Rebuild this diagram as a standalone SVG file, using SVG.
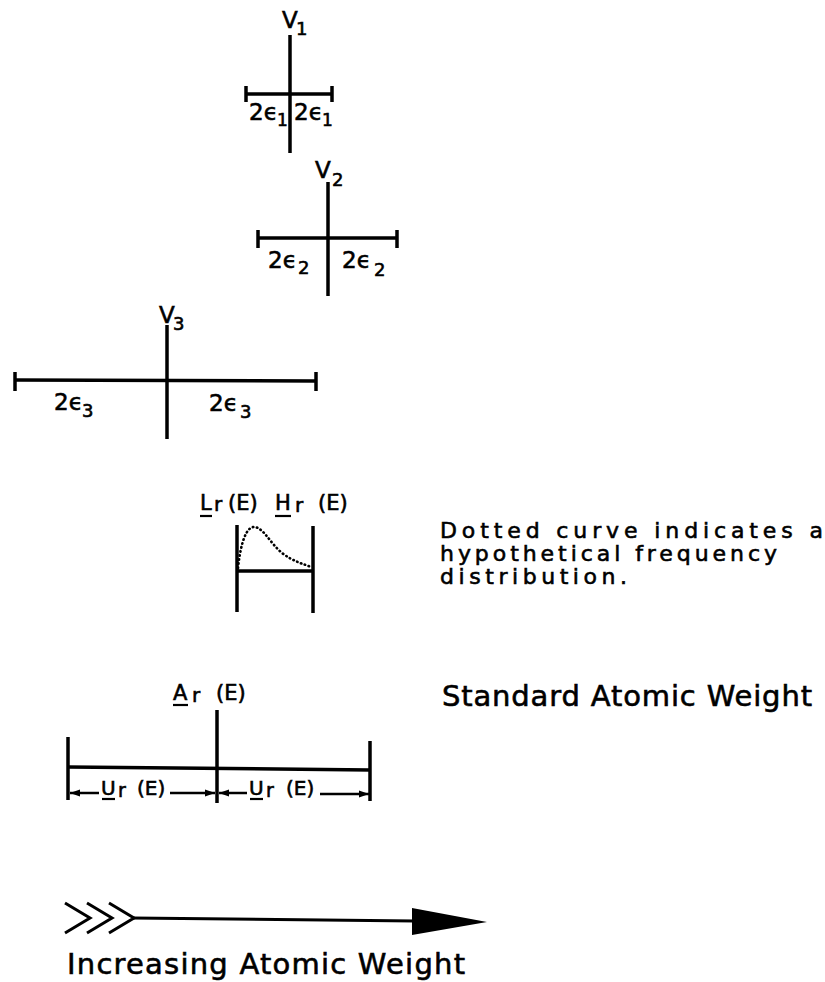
<svg xmlns="http://www.w3.org/2000/svg" width="825" height="982" viewBox="0 0 825 982">
<defs>
<style>
.ln{stroke:#000;stroke-width:3.5;fill:none;stroke-linecap:butt}
.thin{stroke:#000;stroke-width:2.5;fill:none}
.t{font-family:"DejaVu Sans","Liberation Sans",Arial,sans-serif;fill:#000;stroke:#000;stroke-width:0.6}
.ul{stroke:#000;stroke-width:2.2}
</style>
<marker id="ah" markerWidth="10" markerHeight="8" refX="10" refY="4" orient="auto" markerUnits="userSpaceOnUse">
<path d="M0,0.5 L10,4 L0,7.5 Z" fill="#000"/>
</marker>
</defs>
<rect width="825" height="982" fill="#fff"/>

<g id="v1">
<line class="ln" x1="290" y1="35" x2="290" y2="153"/>
<line class="ln" x1="245" y1="94" x2="333" y2="94"/>
<line class="ln" x1="246" y1="86" x2="246" y2="102"/>
<line class="ln" x1="332" y1="86" x2="332" y2="102"/>
<text class="t" x="282" y="28" font-size="23">V</text>
<text class="t" x="296" y="35" font-size="18">1</text>
<text class="t" x="249" y="120" font-size="23">2ϵ</text>
<text class="t" x="277" y="126" font-size="17">1</text>
<text class="t" x="294" y="120" font-size="23">2ϵ</text>
<text class="t" x="322" y="126" font-size="17">1</text>
</g>

<g id="v2">
<line class="ln" x1="328" y1="182" x2="328" y2="296"/>
<line class="ln" x1="257" y1="238" x2="398" y2="238"/>
<line class="ln" x1="258" y1="230" x2="258" y2="248"/>
<line class="ln" x1="397" y1="230" x2="397" y2="248"/>
<text class="t" x="315" y="178" font-size="23">V</text>
<text class="t" x="332" y="186" font-size="18">2</text>
<text class="t" x="268" y="268" font-size="23">2ϵ</text>
<text class="t" x="298" y="274" font-size="18">2</text>
<text class="t" x="342" y="268" font-size="23">2ϵ</text>
<text class="t" x="374" y="276" font-size="18">2</text>
</g>

<g id="v3">
<line class="ln" x1="167" y1="325" x2="167" y2="439"/>
<line class="ln" x1="15" y1="380" x2="316" y2="381"/>
<line class="ln" x1="15" y1="372" x2="15" y2="391"/>
<line class="ln" x1="316" y1="372" x2="316" y2="391"/>
<text class="t" x="159" y="323" font-size="23">V</text>
<text class="t" x="173" y="330" font-size="18">3</text>
<text class="t" x="54" y="410" font-size="23">2ϵ</text>
<text class="t" x="82" y="417" font-size="18">3</text>
<text class="t" x="209" y="411" font-size="23">2ϵ</text>
<text class="t" x="240" y="418" font-size="18">3</text>
</g>

<g id="distribution">
<line class="ln" x1="237" y1="525" x2="237" y2="612"/>
<line class="ln" x1="313" y1="526" x2="313" y2="613"/>
<line class="ln" x1="237" y1="571" x2="313" y2="571"/>
<path d="M238,568 C241,540 247,527 254,527 C263,527 270,543 282,553 C294,562 304,564 311,567" fill="none" stroke="#000" stroke-width="2.6" stroke-dasharray="0.5 3.6" stroke-linecap="round"/>
<text class="t" x="200" y="510" font-size="21">L</text>
<line class="ul" x1="200" y1="516" x2="212" y2="516"/>
<text class="t" x="214" y="511" font-size="20">r</text>
<text class="t" x="228" y="510" font-size="21">(E)</text>
<text class="t" x="275" y="510" font-size="21">H</text>
<line class="ul" x1="275" y1="516" x2="291" y2="516"/>
<text class="t" x="295" y="512" font-size="20">r</text>
<text class="t" x="318" y="510" font-size="21">(E)</text>
</g>

<g id="note">
<text class="t" x="440" y="538" font-size="22" textLength="383" lengthAdjust="spacing">Dotted curve indicates a</text>
<text class="t" x="440" y="561" font-size="22" textLength="337" lengthAdjust="spacing">hypothetical frequency</text>
<text class="t" x="440" y="584" font-size="22" textLength="187" lengthAdjust="spacing">distribution.</text>
</g>

<g id="standard">
<line class="ln" x1="217" y1="710" x2="217" y2="803"/>
<line class="ln" x1="68" y1="737" x2="68" y2="800"/>
<line class="ln" x1="370" y1="741" x2="370" y2="801"/>
<line class="ln" x1="68" y1="767" x2="370" y2="770"/>
<text class="t" x="173" y="700" font-size="21">A</text>
<line class="ul" x1="173" y1="705" x2="188" y2="705"/>
<text class="t" x="192" y="702" font-size="20">r</text>
<text class="t" x="216" y="700" font-size="21">(E)</text>
<text class="t" x="101" y="795" font-size="20">U</text>
<line class="ul" x1="102" y1="799" x2="115" y2="799"/>
<text class="t" x="118" y="797" font-size="19">r</text>
<text class="t" x="137" y="795" font-size="20">(E)</text>
<text class="t" x="249" y="795" font-size="20">U</text>
<line class="ul" x1="250" y1="799" x2="263" y2="799"/>
<text class="t" x="266" y="797" font-size="19">r</text>
<text class="t" x="286" y="795" font-size="20">(E)</text>
<text class="t" x="442" y="706" font-size="29" textLength="370" lengthAdjust="spacing">Standard Atomic Weight</text>
</g>

<g id="connectors">
<line class="thin" x1="99" y1="793" x2="70" y2="793" marker-end="url(#ah)"/>
<line class="thin" x1="170" y1="793" x2="215" y2="793" marker-end="url(#ah)"/>
<line class="thin" x1="247" y1="793" x2="219" y2="793" marker-end="url(#ah)"/>
<line class="thin" x1="320" y1="794" x2="369" y2="794" marker-end="url(#ah)"/>
</g>

<g id="increasing">
<path d="M65,903 L90,918 L65,933 M87,903 L112,918 L87,933 M109,903 L134,918 L109,933" fill="none" stroke="#000" stroke-width="3" stroke-linejoin="miter"/>
<line x1="132" y1="918" x2="415" y2="921" stroke="#000" stroke-width="3"/>
<path d="M412,908 L487,922 L412,935 Z" fill="#000"/>
<text class="t" x="67" y="974" font-size="29" textLength="398" lengthAdjust="spacing">Increasing Atomic Weight</text>
</g>
</svg>
